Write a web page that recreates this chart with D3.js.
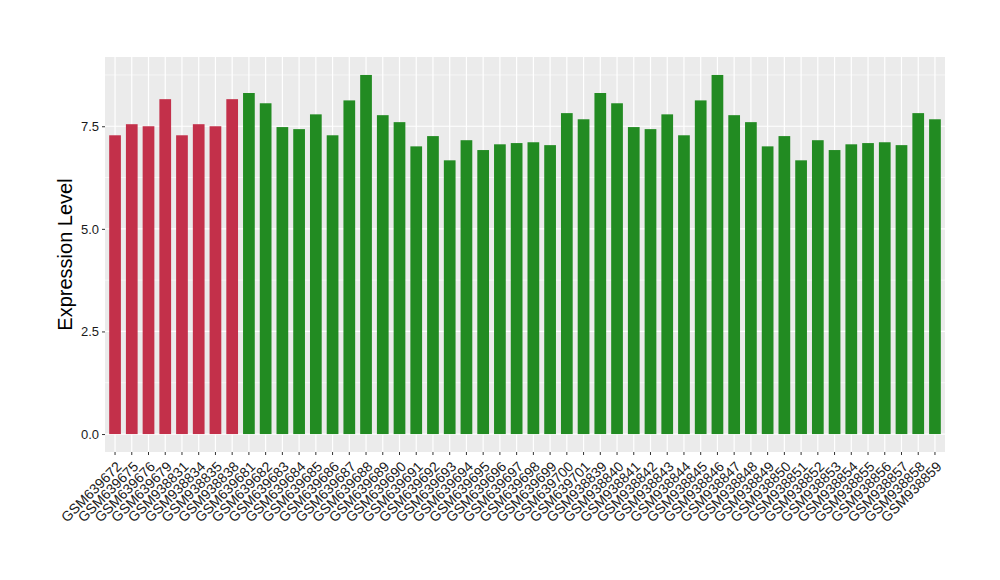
<!DOCTYPE html>
<html><head><meta charset="utf-8">
<script src="https://cdn.jsdelivr.net/npm/d3@7"></script>
<style>body{margin:0;background:#fff;font-family:"Liberation Sans",Arial,sans-serif;}</style>
</head><body><svg id="c" width="1000" height="580"></svg>
<script>
const samples = ["GSM639672","GSM639675","GSM639676","GSM639679","GSM938831","GSM938834","GSM938835","GSM938838",
"GSM639681","GSM639682","GSM639683","GSM639684","GSM639685","GSM639686","GSM639687","GSM639688","GSM639689","GSM639690","GSM639691","GSM639692","GSM639693","GSM639694","GSM639695","GSM639696","GSM639697","GSM639698","GSM639699","GSM639700","GSM639701",
"GSM938839","GSM938840","GSM938841","GSM938842","GSM938843","GSM938844","GSM938845","GSM938846","GSM938847","GSM938848","GSM938849","GSM938850","GSM938851","GSM938852","GSM938853","GSM938854","GSM938855","GSM938856","GSM938857","GSM938858","GSM938859"];
const values = [7.28,7.55,7.50,8.16,7.28,7.55,7.50,8.16,
8.31,8.06,7.48,7.43,7.79,7.28,8.13,8.75,7.77,7.60,7.01,7.26,6.67,7.16,6.92,7.06,7.09,7.11,7.04,7.82,7.67,
8.31,8.06,7.48,7.43,7.79,7.28,8.13,8.75,7.77,7.60,7.01,7.26,6.67,7.16,6.92,7.06,7.09,7.11,7.04,7.82,7.67];
const groups = samples.map((s,i)=> i<8 ? "A" : "B");
const groupColors = {A:"#C3304A", B:"#228B22"};
const yTicks = [0,2.5,5.0,7.5];
const yMinor = [1.25,3.75,6.25,8.75];

const svg = d3.select("#c");
const L=105,R=945,T=57,B=452;
const maxV = d3.max(values);
const y = d3.scaleLinear().domain([-maxV*0.05, maxV*1.05]).range([B,T]);
const n = samples.length;
const xc = d3.scaleLinear().domain([0.4, n+0.6]).range([L,R]);
const bw = 0.7*(xc(1)-xc(0));

svg.append("rect").attr("x",L).attr("y",T).attr("width",R-L).attr("height",B-T).attr("fill","#EBEBEB");
svg.selectAll(".gmin").data(yMinor).enter().append("line")
  .attr("x1",L).attr("x2",R).attr("y1",d=>y(d)).attr("y2",d=>y(d))
  .attr("stroke","#fff").attr("stroke-width",0.6);
svg.selectAll(".gmaj").data(yTicks).enter().append("line")
  .attr("x1",L).attr("x2",R).attr("y1",d=>y(d)).attr("y2",d=>y(d))
  .attr("stroke","#fff").attr("stroke-width",1.2);
svg.selectAll(".gx").data(samples).enter().append("line")
  .attr("x1",(d,i)=>xc(i+1)).attr("x2",(d,i)=>xc(i+1)).attr("y1",T).attr("y2",B)
  .attr("stroke","#fff").attr("stroke-width",1.2);

svg.selectAll(".bar").data(values).enter().append("rect")
  .attr("x",(d,i)=>xc(i+1)-bw/2).attr("width",bw)
  .attr("y",d=>y(d)).attr("height",d=>y(0)-y(d))
  .attr("fill",(d,i)=>groupColors[groups[i]]);

// y axis
const ya = svg.append("g").attr("transform",`translate(${L},0)`)
  .call(d3.axisLeft(y).tickValues(yTicks).tickFormat(d3.format(".1f")).tickSize(3).tickPadding(3));
ya.select(".domain").remove();
ya.selectAll("line").attr("stroke","#333");
ya.selectAll("text").attr("font-size",13).attr("fill","#1a1a1a").attr("font-family","Liberation Sans, Arial, sans-serif");

// x axis
const xb = d3.scaleBand().domain(samples).range([xc(0.5),xc(n+0.5)]);
const xa = svg.append("g").attr("transform",`translate(0,${B})`)
  .call(d3.axisBottom(xb).tickSize(3).tickPadding(2));
xa.select(".domain").remove();
xa.selectAll("line").attr("stroke","#333");
xa.selectAll("text").attr("font-size",14).attr("fill","#1a1a1a").attr("font-family","Liberation Sans, Arial, sans-serif")
  .attr("text-anchor","end").attr("dy","0.35em")
  .attr("transform","translate(4,12) rotate(-45)").attr("y",0).attr("x",0);

svg.append("text").attr("transform",`translate(72,${(T+B)/2}) rotate(-90)`)
  .attr("text-anchor","middle").attr("font-size",20).attr("fill","#000")
  .attr("font-family","Liberation Sans, Arial, sans-serif").text("Expression Level");
</script></body></html>
